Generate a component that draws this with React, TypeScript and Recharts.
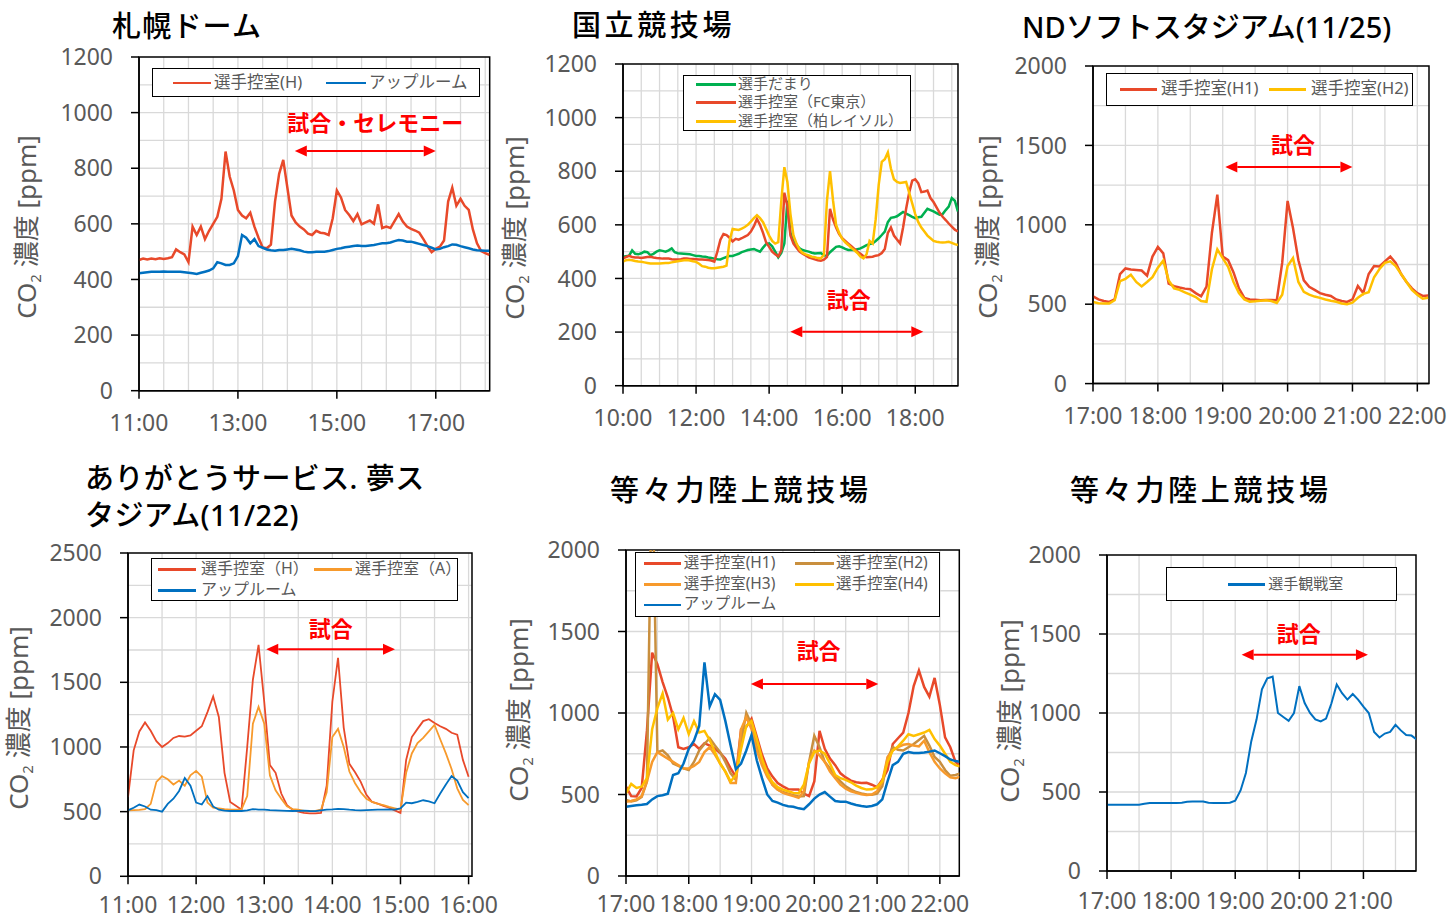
import React from 'react'
import {
  LineChart,
  Line,
  XAxis,
  YAxis,
  CartesianGrid,
  ReferenceLine,
  ReferenceArea,
} from 'recharts'

const SANS = '"Noto Sans", "Noto Sans CJK JP", sans-serif'
const GRAY = '#595959'
const RED = '#E8492A'
const BLUE = '#0070C0'
const GREEN = '#00B050'
const YELLOW = '#FFC000'
const ORANGE = '#F79A2C'
const BROWN = '#C98F3E'
const MATCH = '#FF0000'

// readings every 5 minutes

// 札幌ドーム, from 11:00
const sapporoStart = 11
const sapporoHome = [
  470, 475, 472, 475, 473, 476, 474, 476, 480, 508,
  498, 490, 462, 590, 560, 590, 545, 575, 600, 625,
  690, 860, 770, 720, 650, 630, 620, 640, 590, 550,
  515, 512, 525, 680, 780, 830, 730, 630, 605, 590,
  580, 565, 560, 575, 568, 566, 560, 620, 720, 695,
  650, 632, 610, 635, 598, 605, 612, 600, 670, 585,
  590, 585, 610, 635, 608, 590, 582, 576, 568, 545,
  520, 498, 510, 518, 540, 680, 730, 665, 690, 665,
  650, 580, 530, 502, 495, 488,
]
const sapporoWarmup = [
  422, 424, 426, 428, 428, 428, 429, 428, 428, 428,
  428, 426, 424, 422, 420, 424, 428, 432, 440, 462,
  458, 452, 452, 458, 484, 560, 550, 530, 545, 520,
  514, 508, 505, 503, 506, 506, 508, 510, 508, 505,
  500, 498, 498, 500, 500, 500, 502, 506, 510, 512,
  516, 518, 520, 522, 520, 520, 522, 524, 527, 530,
  530, 533, 538, 542, 540, 536, 536, 532, 528, 524,
  520, 514, 508, 510, 516, 520, 526, 525, 520, 516,
  512, 508, 505, 504, 503, 503,
]

// 国立競技場, from 10:00
const kokuritsuStart = 10
const kokuritsuBench = [
  481, 483, 485, 505, 492, 490, 494, 500, 498, 487,
  492, 500, 505, 503, 500, 505, 512, 498, 494, 493,
  492, 491, 490, 487, 484, 484, 482, 481, 478, 476,
  474, 472, 471, 476, 480, 484, 484, 488, 492, 498,
  502, 506, 508, 510, 505, 500, 515, 528, 531, 520,
  500, 479, 495, 530, 690, 570, 540, 525, 512, 506,
  503, 500, 496, 493, 494, 495, 486, 485, 498, 508,
  518, 520, 516, 510, 506, 506, 506, 509, 512, 518,
  524, 528, 531, 540, 550, 562, 575, 610, 626, 628,
  632, 640, 648, 642, 636, 630, 625, 628, 630, 645,
  660, 655, 650, 644, 638, 640, 655, 668, 700, 690,
  650,
]
const kokuritsuTokyo = [
  475, 480, 484, 480, 478, 478, 476, 478, 480, 481,
  478, 476, 475, 474, 474, 474, 472, 471, 471, 472,
  474, 474, 473, 473, 472, 471, 471, 470, 469, 467,
  463, 500, 545, 566, 562, 552, 538, 548, 545, 550,
  556, 562, 575, 595, 622, 600, 570, 535, 518, 500,
  490, 482, 505, 720, 670, 560, 530, 515, 500, 492,
  486, 479, 475, 471, 468, 466, 470, 480, 660, 620,
  590, 565, 550, 540, 530, 520, 510, 500, 492, 483,
  479, 480, 481, 485, 487, 495, 510, 570, 590, 560,
  545, 531, 590, 660, 720, 765, 770, 755, 722, 724,
  728, 700, 685, 665, 645, 630, 618, 605, 593, 582,
  575,
]
const kokuritsuKashiwa = [
  463, 468, 470, 468, 465, 463, 462, 460, 458, 456,
  456, 456, 456, 457, 458, 458, 460, 462, 464, 466,
  468, 469, 467, 464, 462, 455, 446, 444, 440, 438,
  438, 440, 442, 444, 448, 540, 585, 583, 581, 586,
  592, 600, 612, 625, 636, 625, 610, 585, 560, 540,
  530, 535, 690, 815, 760, 640, 560, 530, 508, 495,
  490, 486, 481, 479, 476, 475, 488, 690, 800, 690,
  600, 570, 548, 535, 525, 514, 505, 495, 482, 475,
  490, 540, 530, 620, 750, 835, 845, 870, 810, 770,
  760, 756, 758, 760, 720, 680, 640, 610, 590, 575,
  560, 550, 540, 537, 535, 534, 535, 537, 533, 528,
  525,
]

// NDソフトスタジアム, from 17:00
const ndStart = 17
const ndH1 = [
  550, 530, 520, 514, 530, 690, 725, 718, 716, 712,
  680, 800, 860, 820, 630, 614, 605, 598, 594, 570,
  550, 610, 950, 1190, 800, 777, 700, 600, 540, 530,
  528, 525, 526, 526, 525, 760, 1150, 980, 777, 650,
  609, 590, 570, 560, 552, 530, 520, 514, 530, 615,
  570, 690, 740, 738, 770, 800, 760, 690, 640, 600,
  570, 552, 555,
]
const ndH2 = [
  514, 506, 505, 505, 525, 645, 660, 685, 640, 612,
  640, 670, 730, 775, 650, 600, 590, 575, 560, 545,
  520, 515, 720, 845, 790, 735, 640, 570, 530, 515,
  518, 522, 525, 520, 508, 560, 740, 790, 640, 578,
  560, 548, 540, 530, 522, 515, 505, 500, 510, 540,
  565, 575, 670, 722, 760, 770, 740, 690, 640, 590,
  560, 535, 540,
]

// ありがとうサービス. 夢スタジアム, from 11:00
const yumeStart = 11
const yumeHome = [
  613, 974, 1120, 1190, 1125, 1045, 1000, 1030, 1070, 1085,
  1080, 1090, 1125, 1160, 1270, 1390, 1232, 800, 575, 545,
  515, 1000, 1520, 1790, 1350, 860, 800, 640, 550, 515,
  500, 490, 486, 486, 490, 700, 1350, 1690, 1150, 870,
  805, 730, 630, 575, 562, 545, 530, 510, 490, 900,
  1077, 1140, 1200, 1215, 1185, 1160, 1140, 1110, 1095, 900,
  770,
]
const yumeAway = [
  510, 512, 514, 520, 560, 730, 775, 750, 710, 740,
  700, 781, 815, 770, 570, 530, 525, 520, 516, 515,
  518, 620, 1180, 1310, 1180, 780, 665, 600, 541, 520,
  515, 505, 505, 505, 515, 650, 1077, 1140, 1000, 810,
  720, 650, 600, 575, 560, 550, 536, 525, 515, 800,
  950, 1030, 1070, 1120, 1170, 1060, 950, 830, 680, 590,
  550,
]
const yumeWarmup = [
  510, 530, 555, 540, 515, 512, 500, 560, 600, 660,
  760, 700, 570, 555, 620, 540, 515, 508, 505, 505,
  505, 510, 520, 515, 515, 512, 510, 508, 506, 505,
  506, 508, 505, 504, 510, 515, 518, 522, 520, 515,
  512, 510, 512, 514, 515, 516, 518, 515, 525, 570,
  565, 575, 588, 580, 565, 640, 710, 775, 740, 650,
  605,
]

// 等々力陸上競技場 (控室), from 17:00
const todorokiStart = 17
const todorokiH1 = [
  548, 490, 488, 540, 890, 1370, 1300, 1190, 1095, 980,
  790, 780, 790, 810, 780, 815, 800, 780, 755, 720,
  660, 610, 900, 916, 965, 855, 745, 660, 610, 570,
  550, 533, 530, 530, 505, 490, 580, 890, 780, 720,
  680, 630, 605, 585, 575, 570, 572, 560, 545, 590,
  650, 810, 845, 880, 1000, 1165, 1260, 1160, 1100, 1215,
  1050, 850, 790, 700, 670,
]
const todorokiH2 = [
  466, 458, 465, 485, 580, 2600, 760, 770, 740, 690,
  675, 660, 650, 700, 770, 810, 845, 800, 760, 700,
  630, 590, 820, 1000, 930, 800, 700, 640, 560, 530,
  515, 505, 495, 488, 490, 700, 860, 790, 700, 660,
  615, 580, 550, 530, 515, 507, 500, 498, 505, 550,
  720, 790, 775, 770, 790, 810, 835, 860, 800, 730,
  700, 650, 615, 620, 630,
]
const todorokiH3 = [
  456, 460, 470, 490, 580, 700, 760, 740, 720, 700,
  680, 660, 660, 675, 700, 760, 790, 745, 690, 640,
  570, 570, 900, 975, 900, 770, 680, 610, 560, 530,
  510, 500, 490, 480, 520, 700, 770, 740, 700, 640,
  600, 560, 535, 520, 510, 502, 497, 500, 520, 580,
  730, 770, 790, 805, 810, 800, 795, 830, 760, 700,
  660, 630, 605, 600, 610,
]
const todorokiH4 = [
  507, 565, 540, 548, 600, 900, 1030, 1120, 960, 1000,
  900, 970, 870, 950, 880, 890, 834, 760, 690, 640,
  580, 620, 780, 920, 950, 840, 720, 630, 575, 545,
  530, 520, 510, 507, 560, 690, 760, 770, 750, 690,
  620, 600, 590, 575, 555, 540, 530, 532, 545, 580,
  700, 770, 795, 830, 870, 860, 870, 880, 896, 840,
  800, 750, 700, 680, 670,
]
const todorokiWarmup = [
  425, 430, 434, 437, 442, 470, 490, 495, 505, 620,
  630, 690, 780, 830, 920, 1310, 1040, 1115, 1080, 950,
  800, 655, 690, 770, 865, 710, 600, 500, 460, 450,
  436, 428, 425, 415, 410, 440, 475, 500, 515, 487,
  460, 456, 456, 445, 436, 430, 425, 430, 440, 470,
  580, 680, 700, 750, 760, 755, 755, 758, 763, 770,
  753, 735, 715, 705, 700,
]

// 等々力陸上競技場 (観戦室), from 17:00
const viewingStart = 17
const viewingRoom = [
  420, 420, 420, 420, 420, 420, 420, 425, 430, 430,
  430, 430, 430, 430, 432, 438, 440, 440, 440, 432,
  430, 430, 430, 432, 445, 510, 620, 820, 960, 1150,
  1220, 1230, 1000, 975, 950, 1000, 1170, 1063, 1000, 960,
  947, 965, 1060, 1180, 1125, 1085, 1120, 1085, 1040, 1000,
  880, 845, 870, 880, 925, 890, 860, 857, 831,
]

function rowsFrom(start: number, cols: Record<string, number[]>) {
  const n = Math.max(...Object.values(cols).map((c) => c.length))
  return Array.from({ length: n }, (_, i) => {
    const row: any = { t: start + (i * 5) / 60 }
    for (const k in cols) row[k] = cols[k][i]
    return row
  })
}

function steps(from: number, to: number, step: number) {
  const out: number[] = []
  for (let v = from; v <= to + 1e-6; v += step) out.push(Math.round(v * 100) / 100)
  return out
}

const arrowShape = (text: string, dx: number, dy: number) => (props: any) => {
  const { x1, y1, x2, y2 } = props
  const h = 12
  const w = 5.5
  return (
    <g>
      <line x1={x1 + h} y1={y1} x2={x2 - h} y2={y2} stroke={MATCH} strokeWidth={2} />
      <polygon points={`${x1},${y1} ${x1 + h},${y1 - w} ${x1 + h},${y1 + w}`} fill={MATCH} />
      <polygon points={`${x2},${y2} ${x2 - h},${y2 - w} ${x2 - h},${y2 + w}`} fill={MATCH} />
      <text
        x={(x1 + x2) / 2 + dx}
        y={y1 + dy}
        textAnchor="middle"
        dominantBaseline="central"
        fill={MATCH}
        fontSize={22}
        fontWeight="bold"
        fontFamily={SANS}
      >
        {text}
      </text>
    </g>
  )
}

type Series = { key: string; name: string; color: string; width: number; lx: [number, number, number, number] }

interface PanelProps {
  title: string[]
  titleAt: [number, number]
  titleSpacing: number
  plot: { l: number; t: number; r: number; b: number }
  xDomain: [number, number]
  xTicks: number[]
  xTickMargin: number
  yMax: number
  yStep: number
  gridStep: number
  rows: any[]
  series: Series[]
  legendBox: [number, number, number, number]
  legendFont: number
  arrow: { x1: number; x2: number; y: number; text: string; dx: number; dy: number }
  yLabelAt: [number, number]
}

function Panel(p: PanelProps) {
  const { l, t, r, b } = p.plot
  const cx = l - 90
  const cy = t - 20
  const W = r + 40 - cx
  const H = b + 55 - cy
  const yTicks = steps(0, p.yMax, p.yStep)
  const hGrid = steps(p.gridStep, p.yMax - p.gridStep, p.gridStep)
  const vGrid = steps(p.xDomain[0] + 0.5, p.xDomain[1], 0.5)
  const [bx, by, bw, bh] = p.legendBox
  return (
    <>
      <div style={{ position: 'absolute', left: cx, top: cy }}>
        <LineChart width={W} height={H} data={p.rows} margin={{ top: 20, right: 40, bottom: 5, left: 0 }}>
          <CartesianGrid stroke="#D9D9D9" strokeWidth={1.3} horizontalValues={hGrid} verticalValues={vGrid} />
          <XAxis
            type="number"
            dataKey="t"
            domain={p.xDomain}
            ticks={p.xTicks}
            interval={0}
            allowDataOverflow
            height={50}
            tickSize={8}
            tickMargin={p.xTickMargin}
            tickFormatter={(v: number) => `${v}:00`}
            tick={{ fill: GRAY, fontSize: 23, fontFamily: SANS }}
            axisLine={{ stroke: '#000', strokeWidth: 1.5 }}
            tickLine={{ stroke: '#000', strokeWidth: 1.5 }}
          />
          <YAxis
            type="number"
            domain={[0, p.yMax]}
            ticks={yTicks}
            interval={0}
            allowDataOverflow
            width={90}
            tickSize={8}
            tickMargin={18}
            tick={{ fill: GRAY, fontSize: 23, fontFamily: SANS }}
            axisLine={{ stroke: '#000', strokeWidth: 1.5 }}
            tickLine={{ stroke: '#000', strokeWidth: 1.5 }}
          />
          {p.series.map((s) => (
            <Line
              key={s.key}
              type="linear"
              dataKey={s.key}
              name={s.name}
              stroke={s.color}
              strokeWidth={s.width}
              dot={false}
              activeDot={false}
              isAnimationActive={false}
            />
          ))}
          <ReferenceArea
            x1={p.xDomain[0]}
            x2={p.xDomain[1]}
            y1={0}
            y2={p.yMax}
            fill="none"
            stroke="#000"
            strokeWidth={1.5}
            ifOverflow="visible"
          />
          <ReferenceLine
            segment={[
              { x: p.arrow.x1, y: p.arrow.y },
              { x: p.arrow.x2, y: p.arrow.y },
            ]}
            ifOverflow="visible"
            shape={arrowShape(p.arrow.text, p.arrow.dx, p.arrow.dy)}
          />
        </LineChart>
      </div>
      <div
        style={{
          position: 'absolute',
          left: bx,
          top: by,
          width: bw,
          height: bh,
          border: '1.5px solid #000',
          background: '#fff',
          boxSizing: 'border-box',
        }}
      >
        {p.series.map((s) => (
          <React.Fragment key={s.key}>
            <div
              style={{
                position: 'absolute',
                left: s.lx[0] - bx,
                top: s.lx[3] - by - 1.25,
                width: s.lx[1] - s.lx[0],
                height: 2.5,
                background: s.color,
              }}
            />
            <div
              style={{
                position: 'absolute',
                left: s.lx[2] - bx,
                top: s.lx[3] - by - p.legendFont / 2 - 1,
                fontSize: p.legendFont,
                lineHeight: `${p.legendFont}px`,
                color: GRAY,
                fontFamily: SANS,
                whiteSpace: 'nowrap',
              }}
            >
              {s.name}
            </div>
          </React.Fragment>
        ))}
      </div>
      <div
        style={{
          position: 'absolute',
          left: p.titleAt[0],
          top: p.titleAt[1],
          fontSize: 29,
          lineHeight: '37px',
          fontFamily: SANS,
          fontWeight: 500,
          letterSpacing: p.titleSpacing,
          color: '#000',
          whiteSpace: 'nowrap',
        }}
      >
        {p.title.map((line) => (
          <div key={line}>{line}</div>
        ))}
      </div>
      <div
        style={{
          position: 'absolute',
          left: p.yLabelAt[0],
          top: p.yLabelAt[1],
          transform: 'translate(-50%, -50%) rotate(-90deg)',
          fontSize: 26,
          lineHeight: '30px',
          color: GRAY,
          fontFamily: SANS,
          whiteSpace: 'nowrap',
        }}
      >
        CO<span style={{ fontSize: 15, verticalAlign: -5 }}>2</span> 濃度 [ppm]
      </div>
    </>
  )
}

export default function App() {
  return (
    <div
      style={{
        position: 'absolute',
        left: 0,
        top: 0,
        width: 1449,
        height: 920,
        overflow: 'hidden',
        background: '#fff',
      }}
    >
      <Panel
        title={['札幌ドーム']}
        titleAt={[112, 7]}
        titleSpacing={1.2}
        plot={{ l: 139.3, t: 57, r: 490, b: 390.7 }}
        xDomain={[11, 18.09]}
        xTicks={[11, 13, 15, 17]}
        xTickMargin={16}
        yMax={1200}
        yStep={200}
        gridStep={100}
        rows={rowsFrom(sapporoStart, { h: sapporoHome, up: sapporoWarmup })}
        series={[
          { key: 'h', name: '選手控室(H)', color: RED, width: 2.5, lx: [171.7, 210, 213, 82] },
          { key: 'up', name: 'アップルーム', color: BLUE, width: 2.5, lx: [325, 365, 368, 82] },
        ]}
        legendBox={[151.7, 68.3, 328.3, 28.4]}
        legendFont={16.5}
        arrow={{ x1: 14.15, x2: 17.0, y: 862, text: '試合・セレモニー', dx: 10, dy: -29 }}
        yLabelAt={[30, 227]}
      />
      <Panel
        title={['国立競技場']}
        titleAt={[572, 6]}
        titleSpacing={3.6}
        plot={{ l: 622.7, t: 64, r: 957.7, b: 385.7 }}
        xDomain={[10, 19.17]}
        xTicks={[10, 12, 14, 16, 18]}
        xTickMargin={16}
        yMax={1200}
        yStep={200}
        gridStep={100}
        rows={rowsFrom(kokuritsuStart, { g: kokuritsuBench, fc: kokuritsuTokyo, kr: kokuritsuKashiwa })}
        series={[
          { key: 'g', name: '選手だまり', color: GREEN, width: 2.5, lx: [695, 735, 737, 83.3] },
          { key: 'fc', name: '選手控室（FC東京）', color: RED, width: 2.5, lx: [695, 735, 737, 101.7] },
          { key: 'kr', name: '選手控室（柏レイソル）', color: YELLOW, width: 2.5, lx: [695, 735, 737, 120.7] },
        ]}
        legendBox={[683.3, 75, 227.4, 56]}
        legendFont={15}
        arrow={{ x1: 14.58, x2: 18.22, y: 201, text: '試合', dx: -8, dy: -33 }}
        yLabelAt={[518, 228]}
      />
      <Panel
        title={['NDソフトスタジアム(11/25)']}
        titleAt={[1022, 8]}
        titleSpacing={0}
        plot={{ l: 1092.7, t: 65.7, r: 1428.7, b: 383.3 }}
        xDomain={[17, 22.18]}
        xTicks={[17, 18, 19, 20, 21, 22]}
        xTickMargin={16}
        yMax={2000}
        yStep={500}
        gridStep={250}
        rows={rowsFrom(ndStart, { h1: ndH1, h2: ndH2 })}
        series={[
          { key: 'h1', name: '選手控室(H1)', color: RED, width: 2.5, lx: [1119, 1156, 1160, 88.3] },
          { key: 'h2', name: '選手控室(H2)', color: YELLOW, width: 2.5, lx: [1268, 1305, 1310, 88.3] },
        ]}
        legendBox={[1106, 72.7, 307.3, 33]}
        legendFont={16.5}
        arrow={{ x1: 19.04, x2: 21.0, y: 1364, text: '試合', dx: 4, dy: -23 }}
        yLabelAt={[990.7, 227]}
      />
      <Panel
        title={['ありがとうサービス. 夢ス', 'タジアム(11/22)']}
        titleAt={[85, 459]}
        titleSpacing={0.4}
        plot={{ l: 127.7, t: 552.7, r: 471.7, b: 876 }}
        xDomain={[11, 16.05]}
        xTicks={[11, 12, 13, 14, 15, 16]}
        xTickMargin={12}
        yMax={2500}
        yStep={500}
        gridStep={250}
        rows={rowsFrom(yumeStart, { h: yumeHome, a: yumeAway, up: yumeWarmup })}
        series={[
          { key: 'h', name: '選手控室（H）', color: RED, width: 1.8, lx: [157, 195, 200, 568.3] },
          { key: 'a', name: '選手控室（A）', color: ORANGE, width: 1.8, lx: [313, 351, 354, 568.3] },
          { key: 'up', name: 'アップルーム', color: BLUE, width: 1.8, lx: [157, 195, 200, 589.3] },
        ]}
        legendBox={[150.7, 558.3, 307.6, 42.7]}
        legendFont={16}
        arrow={{ x1: 13.03, x2: 14.92, y: 1755, text: '試合', dx: 0, dy: -21 }}
        yLabelAt={[21.7, 718]}
      />
      <Panel
        title={['等々力陸上競技場']}
        titleAt={[610, 471]}
        titleSpacing={3.7}
        plot={{ l: 626, t: 550, r: 959.3, b: 876 }}
        xDomain={[17, 22.31]}
        xTicks={[17, 18, 19, 20, 21, 22]}
        xTickMargin={12}
        yMax={2000}
        yStep={500}
        gridStep={250}
        rows={rowsFrom(todorokiStart, {
          h1: todorokiH1,
          h2: todorokiH2,
          h3: todorokiH3,
          h4: todorokiH4,
          up: todorokiWarmup,
        })}
        series={[
          { key: 'h1', name: '選手控室(H1)', color: RED, width: 2.5, lx: [642.7, 680, 682.7, 562.3] },
          { key: 'h2', name: '選手控室(H2)', color: BROWN, width: 2.5, lx: [794, 833, 835, 562.3] },
          { key: 'h3', name: '選手控室(H3)', color: ORANGE, width: 2.5, lx: [642.7, 680, 682.7, 583.3] },
          { key: 'h4', name: '選手控室(H4)', color: YELLOW, width: 2.5, lx: [794, 833, 835, 583.3] },
          { key: 'up', name: 'アップルーム', color: BLUE, width: 2.5, lx: [642.7, 680, 682.7, 604] },
        ]}
        legendBox={[635, 551.7, 305, 65]}
        legendFont={15.5}
        arrow={{ x1: 18.99, x2: 21.02, y: 1178, text: '試合', dx: 4, dy: -34 }}
        yLabelAt={[521.7, 710]}
      />
      <Panel
        title={['等々力陸上競技場']}
        titleAt={[1070, 471]}
        titleSpacing={3.7}
        plot={{ l: 1107, t: 555.3, r: 1416, b: 871.3 }}
        xDomain={[17, 21.82]}
        xTicks={[17, 18, 19, 20, 21]}
        xTickMargin={14}
        yMax={2000}
        yStep={500}
        gridStep={250}
        rows={rowsFrom(viewingStart, { v: viewingRoom })}
        series={[{ key: 'v', name: '選手観戦室', color: BLUE, width: 2, lx: [1226.7, 1264, 1267.3, 583.3] }]}
        legendBox={[1165.7, 566.7, 231.6, 34.3]}
        legendFont={15}
        arrow={{ x1: 19.1, x2: 21.07, y: 1369, text: '試合', dx: -6, dy: -22 }}
        yLabelAt={[1013, 711]}
      />
    </div>
  )
}
